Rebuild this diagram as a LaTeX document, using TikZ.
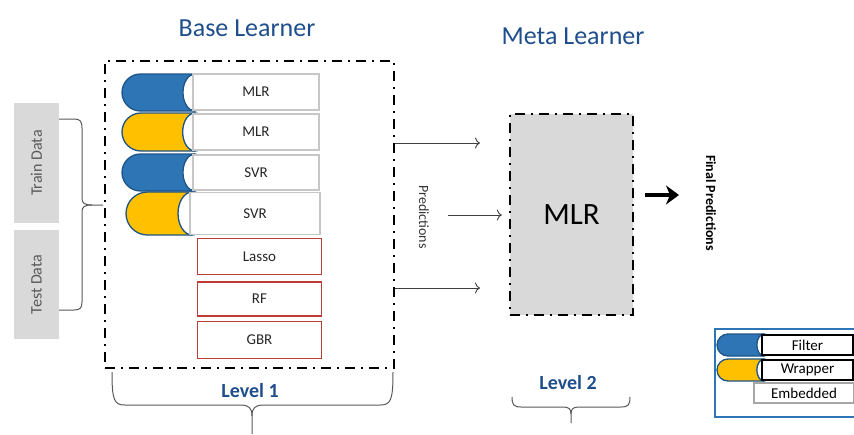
\documentclass[tikz,border=0pt]{standalone}
\usepackage{fontspec}
\setmainfont{Carlito}
\usetikzlibrary{arrows.meta,positioning}

\definecolor{titleblue}{RGB}{31,78,140}
\definecolor{pillblue}{RGB}{46,117,182}
\definecolor{pilledge}{RGB}{28,84,135}
\definecolor{pillyellow}{RGB}{255,192,0}
\definecolor{boxred}{RGB}{190,60,55}
\definecolor{datagray}{RGB}{217,217,217}
\definecolor{textgray}{RGB}{89,89,89}

\tikzset{
  learnerframe/.style={draw=black, line width=2.4pt, dash pattern=on 10pt off 6pt on 2pt off 6pt},
  modelbox/.style={draw=gray!45, fill=white, line width=1.4pt, font=\fontsize{15}{17}\selectfont, text=black!85},
  redbox/.style={draw=boxred, fill=white, line width=1.4pt, font=\fontsize{15}{17}\selectfont, text=black!85},
  databox/.style={fill=datagray, text=textgray, font=\fontsize{16}{18}\selectfont},
  titletext/.style={text=titleblue, font=\fontsize{26}{30}\selectfont},
  leveltext/.style={text=titleblue, font=\fontsize{20}{24}\selectfont\bfseries},
  bracket/.style={draw=textgray, line width=1pt},
  predarrow/.style={draw=black!75, line width=0.9pt, -{To[length=5pt,width=11pt]}},
  legendbox/.style={draw=black, fill=white, line width=1.6pt, font=\fontsize{15}{17}\selectfont},
}

% coloured half of a learner: #1 left, #2 right, #3 top, #4 bottom, #5 colour
\newcommand{\learnerpill}[5]{%
  \pgfmathsetmacro{\pillmid}{(#3+#4)/2}
  \pgfmathsetmacro{\pillrad}{(#4-#3)/2}
  \filldraw[fill=#5, draw=pilledge, line width=1.3pt, rounded corners=\pillrad pt]
    (#2,#3) -- (#1,#3) -- (#1,#4) -- (#2,#4);
  \filldraw[fill=white, draw=pilledge, line width=1.3pt] (#2,\pillmid) ellipse ({0.65*\pillrad} and \pillrad);
}

\begin{document}
\begin{tikzpicture}[x=1pt,y=-1pt]
\useasboundingbox (0,0) rectangle (854,434);
\clip (0,0) rectangle (854,434);

% titres
\node[titletext] (basetitle) at (247,28) {Base Learner};
\node[titletext] (metatitle) at (573,36) {Meta Learner};

% donnees
\node[databox, minimum width=45, minimum height=120] (train) at (36.5,163) {};
\node[databox, rotate=90] at (train) {Train Data};
\node[databox, minimum width=45, minimum height=109] (test) at (36.5,284.5) {};
\node[databox, rotate=90] at (test) {Test Data};

\draw[bracket] (59,119) -- (74,119) .. controls (80,119) and (82,121) .. (82,128) -- (82,198)
  .. controls (82,203) and (84,205) .. (92,205) -- (103,205);
\draw[bracket] (92,205) .. controls (84,205) and (82,207) .. (82,212) -- (82,302)
  .. controls (82,308) and (80,310) .. (74,310) -- (59,310);

% base learners
\node[learnerframe, minimum width=289, minimum height=307] (base) at (249.5,214.5) {};

\learnerpill{122}{195}{74}{111}{pillblue}
\node[modelbox, minimum width=126, minimum height=36] (m1) at (256,92) {MLR};
\learnerpill{122}{195}{113}{151}{pillyellow}
\node[modelbox, minimum width=126, minimum height=36] (m2) at (256,132) {MLR};
\learnerpill{122}{195}{154}{191}{pillblue}
\node[modelbox, minimum width=126, minimum height=35] (m3) at (256,172.5) {SVR};
\learnerpill{126}{192}{192}{235}{pillyellow}
\node[modelbox, minimum width=130, minimum height=42] (m4) at (255,213.5) {SVR};

\node[redbox, minimum width=124, minimum height=36] (lasso) at (259.5,256.5) {Lasso};
\node[redbox, minimum width=124, minimum height=34] (rf) at (259.5,299) {RF};
\node[redbox, minimum width=124, minimum height=37] (gbr) at (259.5,340) {GBR};

\node[leveltext] (lev1) at (250,391) {Level 1};
\draw[bracket] (112,372) .. controls (112,400) and (114,405) .. (125,405) -- (240,405)
  .. controls (249,405) and (252,408) .. (252,416) -- (252,434);
\draw[bracket] (252,416) .. controls (252,408) and (255,405) .. (264,405) -- (380,405)
  .. controls (391,405) and (393,400) .. (393,372);

% meta learner
\node[learnerframe, fill=datagray, minimum width=123, minimum height=201,
  font=\fontsize{31}{34}\selectfont] (meta) at (571.5,214.5) {MLR};

\node[text=black!80, rotate=-90, font=\fontsize{14}{16}\selectfont] (pred) at (424,217) {Predictions};

\coordinate (p1) at (480,143);
\coordinate (p2) at (448,215);
\coordinate (p3) at (480,288);
\draw[predarrow] (base.east |- p1) -- (p1);
\draw[predarrow, shorten >=7pt] (p2) -- (meta.west |- p2);
\draw[predarrow] (base.east |- p3) -- (p3);

\node[rotate=-90, font=\fontsize{14}{16}\selectfont\bfseries] (final) at (711,203) {Final Predictions};
\coordinate (f0) at (645,195);
\coordinate (f1) at (679,195);
\draw[line width=3.5pt, -{Stealth[length=13pt,width=19pt,inset=4pt]}] (f0) -- (f1);

\node[leveltext] (lev2) at (568,383) {Level 2};
\draw[bracket] (512,397) .. controls (512,405) and (514,407) .. (521,407) -- (563,407)
  .. controls (569,407) and (571,409) .. (571,414) -- (571,423);
\draw[bracket] (571,414) .. controls (571,409) and (573,407) .. (579,407) -- (621,407)
  .. controls (628,407) and (630,405) .. (630,397);

% legende
\draw[draw=pillblue, line width=1.6pt] (715,329) rectangle (880,417);
\learnerpill{717}{764}{334}{356}{pillblue}
\node[legendbox, minimum width=91, minimum height=20] (filter) at (807.5,345) {Filter};
\learnerpill{717}{764}{359}{381}{pillyellow}
\node[legendbox, minimum width=91, minimum height=20] (wrapper) at (807.5,370) {Wrapper};
\node[legendbox, draw=gray!70, line width=1.2pt, minimum width=100, minimum height=20] (embedded) at (804,393) {Embedded};

\end{tikzpicture}
\end{document}
